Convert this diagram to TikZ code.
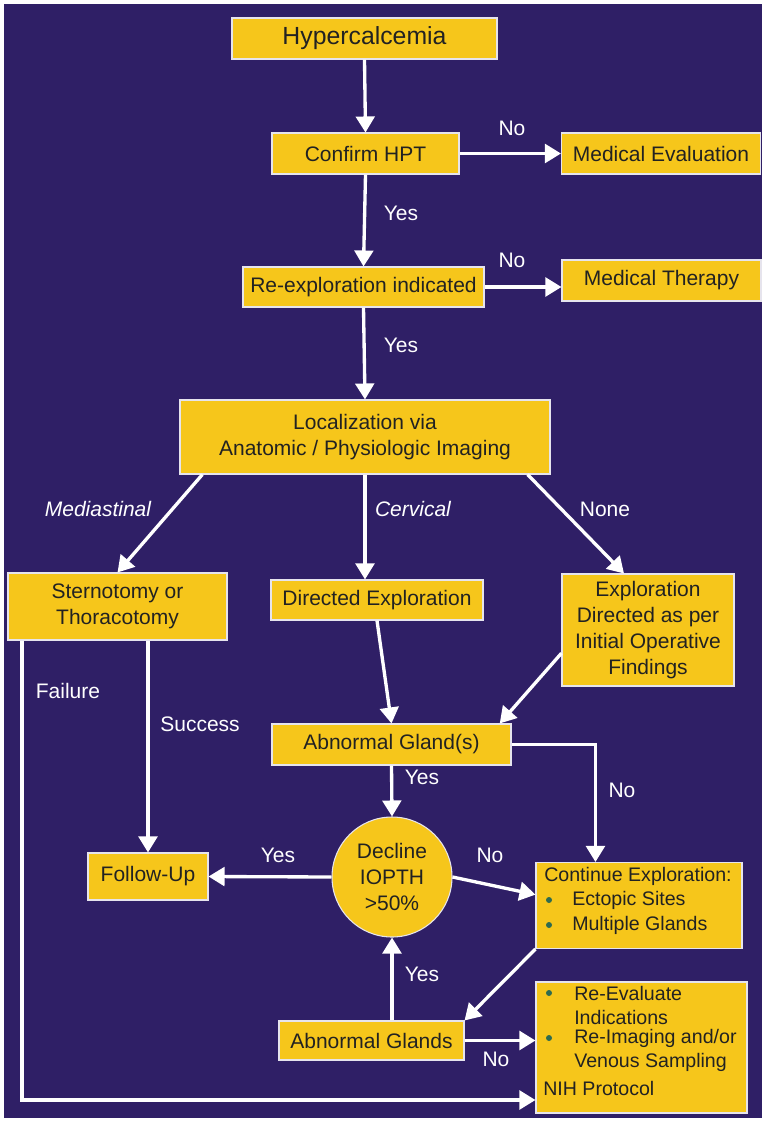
\documentclass[tikz,border=0pt]{standalone}
\usepackage{fontspec}
\setmainfont{Liberation Sans}
\usetikzlibrary{arrows.meta}

\definecolor{bgpurple}{HTML}{2F1F66}
\definecolor{boxyellow}{HTML}{F6C61B}
\definecolor{dotgreen}{HTML}{2E6B50}
\definecolor{txtdark}{HTML}{222222}

\tikzset{
  box/.style={rectangle, fill=boxyellow, draw=white!88!bgpurple, line width=0.8pt,
    inner sep=0pt, text=txtdark, align=center, font=\fontsize{15.75}{19.5}\selectfont},
  lbl/.style={text=white, inner sep=0pt, font=\fontsize{15.75}{19}\selectfont},
  item/.style={text=txtdark, inner sep=0pt, anchor=west, font=\fontsize{14.7}{18}\selectfont},
  dot/.style={circle, fill=dotgreen, inner sep=0pt, minimum size=4.5pt},
  arr/.style={draw=white, line width=2.5pt, -{Triangle[length=12pt,width=14pt]}},
  wire/.style={draw=white, line width=2.5pt}
}

\begin{document}
\begin{tikzpicture}[x=0.75pt, y=-0.75pt]

	\fill[white] (0,0) rectangle (764,1121);
	\fill[bgpurple] (4,4) rectangle (762,1118);

	% boxes
	\node (hyp) at (364.5, 38.5) [box, minimum width=198.75pt, minimum height=30.75pt,
		font=\fontsize{18.6}{22}\selectfont] {Hypercalcemia};
	\node (conf) at (365.5, 153.5) [box, minimum width=140.25pt, minimum height=30.75pt] {Confirm HPT};
	\node (meval) at (661, 153.5) [box, minimum width=149.25pt, minimum height=30.75pt] {Medical Evaluation};
	\node (reexp) at (363.5, 287) [box, minimum width=180.75pt, minimum height=30pt] {Re-exploration indicated};
	\node (mther) at (661.5, 280.5) [box, minimum width=149.25pt, minimum height=30.75pt] {Medical Therapy};
	\node (loc) at (365, 437) [box, minimum width=277.5pt, minimum height=55.5pt]
		{Localization via\\Anatomic / Physiologic Imaging};
	\node (ster) at (117.5, 606.5) [box, minimum width=164.25pt, minimum height=50.25pt] {Sternotomy or\\Thoracotomy};
	\node (dexp) at (377, 600) [box, minimum width=159pt, minimum height=30pt] {Directed Exploration};
	\node (expd) at (648, 630) [box, minimum width=129pt, minimum height=84pt]
		{Exploration\\Directed as per\\Initial Operative\\Findings};
	\node (ag) at (391.5, 744.5) [box, minimum width=179.25pt, minimum height=30.75pt] {Abnormal Gland(s)};
	\node (circ) at (392, 877) [box, circle, minimum size=90pt] {Decline\\IOPTH\\>50\%};
	\node (fu) at (148, 876.5) [box, minimum width=90pt, minimum height=35.25pt] {Follow-Up};
	\node (cont) at (639, 905.5) [box, minimum width=154.5pt, minimum height=64.5pt] {};
	\node (ag2) at (371.5, 1040.5) [box, minimum width=138.75pt, minimum height=29.25pt] {Abnormal Glands};
	\node (reev) at (641.5, 1047.5) [box, minimum width=158.25pt, minimum height=98.25pt] {};

	% list texts
	\node (cont0) at (544, 876) [item] {Continue Exploration:};
	\node (dot1) at (549, 900) [dot] {};
	\node (cont1) at (572, 900) [item] {Ectopic Sites};
	\node (dot2) at (549, 925) [dot] {};
	\node (cont2) at (572, 925) [item] {Multiple Glands};

	\node (dot3) at (549, 993) [dot] {};
	\node (reev1) at (574, 993) [item] {Re-Evaluate};
	\node (reev2) at (574, 1017) [item] {Indications};
	\node (dot4) at (549, 1038) [dot] {};
	\node (reev3) at (574, 1038) [item] {Re-Imaging and/or};
	\node (reev4) at (574, 1062) [item] {Venous Sampling};
	\node (reev5) at (543, 1088) [item] {NIH Protocol};

	% connectors
	\draw[arr] (hyp.south) -- (conf.north);
	\draw[arr] (conf.east) -- (meval.west);
	\draw[arr] (conf.south) -- (reexp.north);
	\draw[arr] (reexp.east) -- (reexp.east -| mther.west);
	\draw[arr] (reexp.south) -- (loc.north);
	\draw[arr] (loc.193) -- (ster.north);
	\draw[arr] (loc.south) -- (dexp.north -| loc.south);
	\draw[arr] (loc.-13) -- (expd.113);
	\draw[arr] (dexp.south) -- (ag.north);
	\draw[arr] (expd.195) -- (ag.11);
	\draw[arr] (ag.east) -| (cont.135);
	\draw[arr] (ag.south) -- (circ.north);
	\draw[arr] (circ.west) -- (fu.east);
	\draw[arr] (circ.east) -- (cont.174);
	\draw[arr] (fu.north |- ster.south) -- (fu.north);
	\coordinate (fail) at (22, 1100);
	\draw[arr] (ster.south -| fail) -- (fail) -- (fail -| reev.west);
	\draw[arr] (cont.south west) -- (ag2.north east);
	\draw[arr] (circ.south |- ag2.north) -- (circ.south);
	\draw[arr] (ag2.east) -- (ag2.east -| reev.west);

	% labels
	\node (lno1) at (512, 128) [lbl] {No};
	\node (lyes1) at (401, 213) [lbl] {Yes};
	\node (lno2) at (512, 260) [lbl] {No};
	\node (lyes2) at (401, 345) [lbl] {Yes};
	\node (lmed) at (98, 509) [lbl] {\itshape Mediastinal};
	\node (lcerv) at (413, 509) [lbl] {\itshape Cervical};
	\node (lnone) at (605, 509) [lbl] {None};
	\node (lfail) at (68, 691) [lbl] {Failure};
	\node (lsucc) at (200, 724) [lbl] {Success};
	\node (lyes3) at (422, 777) [lbl] {Yes};
	\node (lno3) at (622, 790) [lbl] {No};
	\node (lyes4) at (278, 855) [lbl] {Yes};
	\node (lno4) at (490, 855) [lbl] {No};
	\node (lyes5) at (422, 974) [lbl] {Yes};
	\node (lno5) at (496, 1059) [lbl] {No};

\end{tikzpicture}
\end{document}
